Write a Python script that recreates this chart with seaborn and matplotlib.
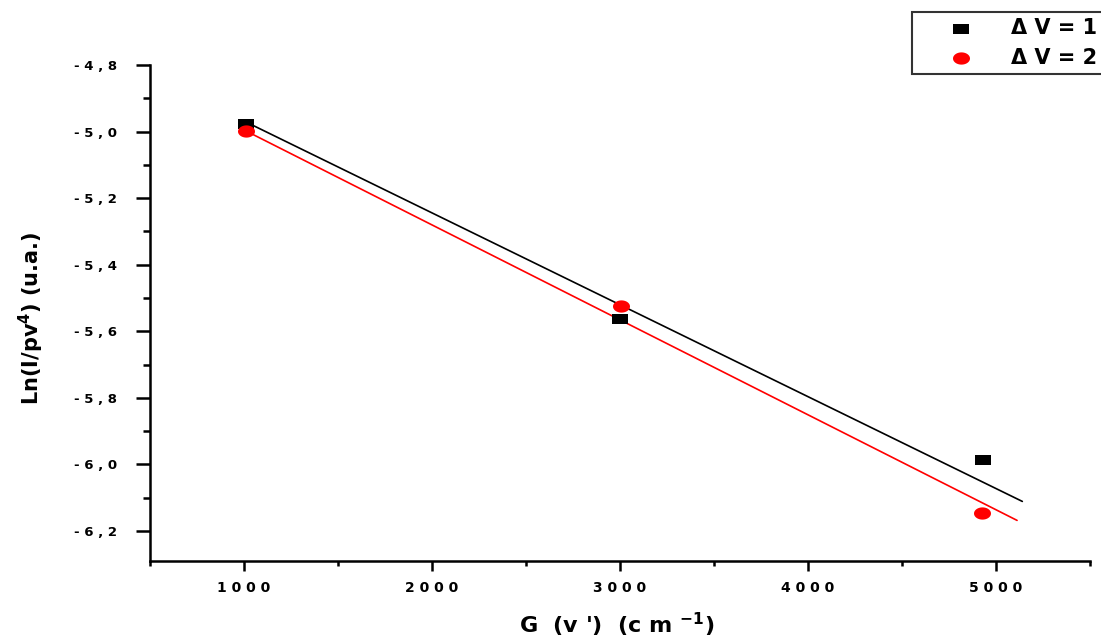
import numpy as np
import pandas as pd
import matplotlib
matplotlib.use("Agg")
import matplotlib.pyplot as plt
from matplotlib.path import Path
from matplotlib.ticker import MultipleLocator
import seaborn as sns

# ---- data ----
g_v_dv1 = [1010, 3000, 4930]
ln_dv1 = [-4.977, -5.562, -5.988]
g_v_dv2 = [1010, 3005, 4925]
ln_dv2 = [-4.998, -5.523, -6.147]
fit_x_dv1 = [1010, 5140]
fit_y_dv1 = [-4.971, -6.111]
fit_x_dv2 = [1010, 5112]
fit_y_dv2 = [-4.998, -6.168]
series_labels = ["\u0394 V = 1", "\u0394 V = 2"]
x_ticks = [1000, 2000, 3000, 4000, 5000]
x_tick_labels = ["1 0 0 0", "2 0 0 0", "3 0 0 0", "4 0 0 0", "5 0 0 0"]
y_ticks = [-4.8, -5.0, -5.2, -5.4, -5.6, -5.8, -6.0, -6.2]
y_tick_labels = ["- 4 , 8", "- 5 , 0", "- 5 , 2", "- 5 , 4", "- 5 , 6", "- 5 , 8", "- 6 , 0", "- 6 , 2"]

pts = pd.DataFrame({
    "G": g_v_dv1 + g_v_dv2,
    "Ln": ln_dv1 + ln_dv2,
    "serie": [series_labels[0]] * 3 + [series_labels[1]] * 3,
})
fits = pd.DataFrame({
    "G": fit_x_dv1 + fit_x_dv2,
    "Ln": fit_y_dv1 + fit_y_dv2,
    "serie": [series_labels[0]] * 2 + [series_labels[1]] * 2,
})

sns.set_style("white")
plt.rcParams["font.family"] = ["DejaVu Sans"]
plt.rcParams["font.weight"] = "bold"
plt.rcParams["text.color"] = "black"
plt.rcParams["axes.labelcolor"] = "black"
plt.rcParams["xtick.color"] = "black"
plt.rcParams["ytick.color"] = "black"

fig = plt.figure(figsize=(11.01, 6.44), dpi=100)
ax = fig.add_axes([150 / 1101, 1 - 561 / 644, 940 / 1101, 496 / 644])

palette = {series_labels[0]: "black", series_labels[1]: "red"}

rect = Path([(-1, -0.55), (1, -0.55), (1, 0.55), (-1, 0.55), (-1, -0.55)],
            [Path.MOVETO, Path.LINETO, Path.LINETO, Path.LINETO, Path.CLOSEPOLY])
th = np.linspace(0, 2 * np.pi, 41)
ell = Path(np.column_stack([np.cos(th), 0.72 * np.sin(th)]), closed=True)

sns.lineplot(data=fits, x="G", y="Ln", hue="serie", palette=palette,
             linewidth=1.2, legend=False, ax=ax, estimator=None, sort=False)
sns.scatterplot(data=pts[pts.serie == series_labels[0]], x="G", y="Ln",
                color="black", marker=rect, s=140, linewidth=0, ax=ax,
                label=series_labels[0], zorder=3)
sns.scatterplot(data=pts[pts.serie == series_labels[1]], x="G", y="Ln",
                color="red", marker=ell, s=150, linewidth=0, ax=ax,
                label=series_labels[1], zorder=3)

ax.set_xlim(500, 5500)
ax.set_ylim(-6.29, -4.8)
ax.set_xticks(x_ticks)
ax.set_xticklabels(x_tick_labels)
ax.set_yticks(y_ticks)
ax.set_yticklabels(y_tick_labels)
ax.xaxis.set_minor_locator(MultipleLocator(500))
ax.yaxis.set_minor_locator(MultipleLocator(0.1))

for s in ["top", "right"]:
    ax.spines[s].set_visible(False)
for s in ["left", "bottom"]:
    ax.spines[s].set_linewidth(1.8)
    ax.spines[s].set_color("black")

ax.tick_params(axis="y", which="major", direction="out", length=10, width=1.8,
               labelsize=9.5, pad=13.5, left=True)
ax.tick_params(axis="y", which="minor", direction="out", length=5, width=1.8, left=True)
ax.tick_params(axis="x", which="major", direction="out", length=7.2, width=1.8,
               labelsize=10, pad=7, bottom=True)
ax.tick_params(axis="x", which="minor", direction="out", length=3.6, width=1.8, bottom=True)
for lab in ax.get_xticklabels() + ax.get_yticklabels():
    lab.set_fontweight("bold")

ax.set_xlabel("G  (v ')  (c m $^{\\mathbf{-1}}$)", fontsize=16, fontweight="bold")
ax.set_ylabel("Ln(I/pv$^{\\mathbf{4}}$) (u.a.)", fontsize=15, fontweight="bold")
ax.xaxis.set_label_coords(0.5 + (617 - 620) / 940, -(611 - 561) / 496)
ax.yaxis.set_label_coords((46 - 150) / 940, 0.5 + (313 - 318) / 496)

leg = ax.legend(loc="upper left", bbox_to_anchor=(912 / 1101, 1 - 12 / 644),
                bbox_transform=fig.transFigure, frameon=True, fancybox=False,
                prop={"size": 15, "weight": "bold"}, handletextpad=0.35,
                borderpad=0.3, labelspacing=0.45, handlelength=4.1,
                borderaxespad=0)
leg.get_frame().set_edgecolor("black")
leg.get_frame().set_linewidth(1.5)

fig.savefig("out.png", dpi=100)
